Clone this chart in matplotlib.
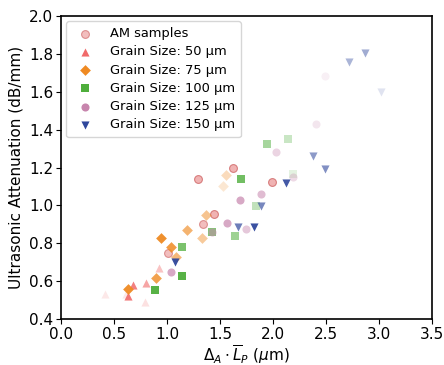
import matplotlib
matplotlib.use("Agg")
import matplotlib.pyplot as plt

# AM samples
am_x = [1.01, 1.34, 1.44, 1.29, 1.62, 1.99]
am_y = [0.75, 0.90, 0.955, 1.14, 1.195, 1.125]
am_a = [0.55, 0.55, 0.65, 0.65, 0.65, 0.65]

# grain size series
g50_x = [0.42, 0.68, 0.63, 0.80, 0.79, 0.93, 0.61]
g50_y = [0.53, 0.58, 0.52, 0.59, 0.49, 0.67, 0.53]
g50_a = [0.15, 0.85, 0.9, 0.6, 0.2, 0.4, 0.15]

g75_x = [0.635, 0.90, 0.94, 1.04, 1.09, 1.19, 1.33, 1.37, 1.53, 1.56]
g75_y = [0.557, 0.615, 0.83, 0.78, 0.73, 0.87, 0.83, 0.95, 1.105, 1.16]
g75_a = [0.95, 0.8, 0.95, 0.85, 0.6, 0.65, 0.45, 0.5, 0.2, 0.3]

g100_x = [0.89, 1.14, 1.145, 1.43, 1.70, 1.64, 1.84, 1.94, 2.14, 2.19]
g100_y = [0.553, 0.626, 0.78, 0.858, 1.137, 0.838, 0.995, 1.323, 1.35, 1.165]
g100_a = [0.95, 0.95, 0.75, 0.7, 0.8, 0.55, 0.35, 0.5, 0.3, 0.15]

g125_x = [1.04, 1.57, 1.69, 1.75, 1.43, 1.89, 2.03, 2.19, 2.41, 2.49]
g125_y = [0.647, 0.905, 1.028, 0.874, 0.86, 1.058, 1.284, 1.15, 1.43, 1.683]
g125_a = [0.7, 0.7, 0.7, 0.45, 0.5, 0.55, 0.35, 0.3, 0.2, 0.12]

g150_x = [1.08, 1.67, 1.82, 1.89, 2.12, 2.38, 2.49, 2.72, 2.87, 3.02]
g150_y = [0.703, 0.888, 0.884, 0.997, 1.117, 1.26, 1.192, 1.759, 1.803, 1.597]
g150_a = [0.95, 0.7, 0.95, 0.65, 0.9, 0.55, 0.6, 0.4, 0.45, 0.15]

series = [
    ("Grain Size: 50 µm", g50_x, g50_y, g50_a, "^", "#f06a6a"),
    ("Grain Size: 75 µm", g75_x, g75_y, g75_a, "D", "#ef8a22"),
    ("Grain Size: 100 µm", g100_x, g100_y, g100_a, "s", "#4fae3c"),
    ("Grain Size: 125 µm", g125_x, g125_y, g125_a, "o", "#c785ad"),
    ("Grain Size: 150 µm", g150_x, g150_y, g150_a, "v", "#2f479c"),
]

fig = plt.figure(figsize=(4.44, 3.65), dpi=100)
ax = fig.add_axes([0.137, 0.126, 0.836, 0.83])

for xi, yi, ai in zip(am_x, am_y, am_a):
    ax.scatter(xi, yi, s=32, marker="o", facecolor="#e88a8a", edgecolor="#c85050",
               linewidths=0.8, alpha=ai, zorder=2)
ax.scatter([], [], s=32, marker="o", facecolor="#e88a8a", edgecolor="#c85050",
           linewidths=0.8, alpha=0.55, label="AM samples")

for label, xs, ys, als, mk, col in series:
    sz = 30 if mk == "D" else 34
    for xi, yi, ai in zip(xs, ys, als):
        ax.scatter(xi, yi, s=sz, marker=mk, color=col, alpha=ai, linewidths=0, zorder=3)
    ax.scatter([], [], s=sz, marker=mk, color=col, linewidths=0, label=label)

ax.set_xlim(0, 3.5)
ax.set_ylim(0.4, 2.0)
ax.set_xlabel(r"$\Delta_A \cdot \overline{L}_P$ ($\mu$m)", fontsize=11, labelpad=1)
ax.set_ylabel("Ultrasonic Attenuation (dB/mm)", fontsize=11)
ax.tick_params(labelsize=11, pad=2)
for sp in ax.spines.values():
    sp.set_linewidth(1.2)
ax.legend(loc="upper left", fontsize=9.4, handletextpad=0.9, borderpad=0.45,
          labelspacing=0.4, borderaxespad=0.4)

fig.savefig("out.png", dpi=100)
